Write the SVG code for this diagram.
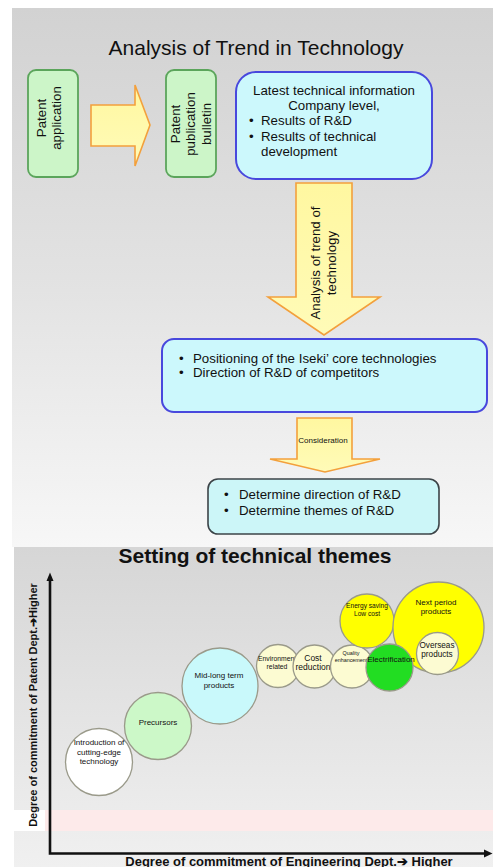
<svg xmlns="http://www.w3.org/2000/svg" width="493" height="867" viewBox="0 0 493 867">
<defs>
<linearGradient id="bgTop" x1="0" y1="0" x2="0" y2="1">
<stop offset="0" stop-color="#d2d2d2"/>
<stop offset="0.5" stop-color="#e2e2e2"/>
<stop offset="1" stop-color="#f7f7f7"/>
</linearGradient>
<linearGradient id="bgBot" x1="0" y1="0" x2="0" y2="1">
<stop offset="0" stop-color="#d6d6d6"/>
<stop offset="1" stop-color="#f0f0f0"/>
</linearGradient>
<linearGradient id="arrowFill" x1="0" y1="0" x2="0" y2="1">
<stop offset="0" stop-color="#fff7a0"/>
<stop offset="1" stop-color="#fffbb8"/>
</linearGradient>
</defs>
<style>
text{font-family:"Liberation Sans",Arial,sans-serif;fill:#111}
.green{fill:#ccf5c8;stroke:#5ba55b;stroke-width:1.8}
.cyan{fill:#ccf8fc;stroke:#4848dd;stroke-width:2}
.cyan2{fill:#ccf6f8;stroke:#3c4448;stroke-width:1.6}
.blk{fill:url(#arrowFill);stroke:#f3a03c;stroke-width:1.6;stroke-linejoin:miter}
.t13{font-size:13.3px}
.bub{stroke:#9a9a8a;stroke-width:1.3}
.axis{fill:none;stroke:#111;stroke-width:2.6}
</style>
<rect x="12" y="8" width="481" height="539" fill="url(#bgTop)"/>
<rect x="14" y="547" width="479" height="320" fill="url(#bgBot)"/>
<rect x="45" y="810" width="448" height="21" fill="#fdeaea"/>
<rect x="14" y="810" width="31" height="21" fill="#ffffff"/>
<text x="256" y="55" font-size="21" text-anchor="middle">Analysis of Trend in Technology</text>
<text x="255" y="563" font-size="21" font-weight="bold" text-anchor="middle">Setting of technical themes</text>
<g id="connectors">
<path class="blk" d="M91,105 H135 V85 L150,125 L135,166 V146 H91 Z"/>
<path class="blk" d="M296,183 H352 V297 H380 L324,335 L268,297 H296 Z"/>
<path class="blk" d="M297,418 H352 V459 H380 L325,472 L270,459 H297 Z"/>
<g transform="translate(0,263) rotate(-90)">
<text x="0" y="320" class="t13" text-anchor="middle">Analysis of trend of</text>
<text x="0" y="336" class="t13" text-anchor="middle">technology</text>
</g>
<text x="323" y="443" font-size="8" text-anchor="middle">Consideration</text>
</g>
<g id="patent-application">
<rect class="green" x="28" y="70" width="50" height="107" rx="8"/>
<g transform="translate(0,118) rotate(-90)">
<text x="0" y="46" class="t13" text-anchor="middle">Patent</text>
<text x="0" y="61" class="t13" text-anchor="middle">application</text>
</g>
</g>
<g id="patent-bulletin">
<rect class="green" x="166" y="70" width="50" height="107" rx="8"/>
<g transform="translate(0,124) rotate(-90)">
<text x="0" y="179.5" class="t13" text-anchor="middle">Patent</text>
<text x="0" y="195" class="t13" text-anchor="middle">publication</text>
<text x="0" y="210.5" class="t13" text-anchor="middle">bulletin</text>
</g>
</g>
<g id="latest-info">
<rect class="cyan" x="236" y="72" width="196" height="107" rx="20"/>
<text x="334" y="94.5" class="t13" text-anchor="middle">Latest technical information</text>
<text x="334" y="110" class="t13" text-anchor="middle">Company level,</text>
<text x="249" y="125" class="t13">•</text>
<text x="261" y="125" class="t13">Results of R&amp;D</text>
<text x="249" y="140.5" class="t13">•</text>
<text x="261" y="140.5" class="t13">Results of technical</text>
<text x="261" y="156" class="t13">development</text>
</g>
<g id="positioning">
<rect class="cyan" x="162" y="339" width="325" height="73" rx="12"/>
<text x="179" y="362.5" class="t13">•</text>
<text x="193" y="362.5" class="t13">Positioning of the Iseki’ core technologies</text>
<text x="179" y="376.5" class="t13">•</text>
<text x="193" y="376.5" class="t13">Direction of R&amp;D of competitors</text>
</g>
<g id="determine">
<rect class="cyan2" x="208" y="479" width="231" height="55" rx="10"/>
<text x="224" y="499" class="t13">•</text>
<text x="239" y="499" class="t13">Determine direction of R&amp;D</text>
<text x="224" y="514.5" class="t13">•</text>
<text x="239" y="514.5" class="t13">Determine themes of R&amp;D</text>
</g>
<g id="axes">
<path class="axis" d="M50,579 V853.5 H485"/>
<polygon points="50,572.5 46.5,581 53.5,581" fill="#111"/>
<polygon points="492.5,853.5 484,849.5 484,857.5" fill="#111"/>
<g transform="translate(0,705) rotate(-90)">
<text x="0" y="37" font-size="11" font-weight="bold" text-anchor="middle">Degree of commitment of Patent Dept.➔Higher</text>
</g>
<text x="289" y="865.5" font-size="13" font-weight="bold" text-anchor="middle">Degree of commitment of Engineering Dept.➔ Higher</text>
</g>
<g id="intro">
<circle class="bub" cx="99" cy="762" r="33.5" fill="#ffffff"/>
<text x="99" y="745" font-size="8" text-anchor="middle">Introduction of</text>
<text x="99" y="754.5" font-size="8" text-anchor="middle">cutting-edge</text>
<text x="99" y="764" font-size="8" text-anchor="middle">technology</text>
</g>
<g id="precursors">
<circle class="bub" cx="158" cy="726" r="33.5" fill="#ccf8c8"/>
<text x="158" y="724.5" font-size="8" text-anchor="middle">Precursors</text>
</g>
<g id="midlong">
<circle class="bub" cx="220" cy="686" r="38" fill="#c9f9fb"/>
<text x="219" y="678" font-size="8" text-anchor="middle">Mid-long term</text>
<text x="219" y="688" font-size="8" text-anchor="middle">products</text>
</g>
<g id="environment">
<circle class="bub" cx="278" cy="666" r="21.5" fill="#fcfbd2"/>
<text x="277" y="661" font-size="6.8" text-anchor="middle">Environment</text>
<text x="277" y="668.5" font-size="6.8" text-anchor="middle">related</text>
</g>
<g id="cost">
<circle class="bub" cx="314.5" cy="666.5" r="21.5" fill="#fcfbd2"/>
<text x="313" y="660.5" font-size="8.5" text-anchor="middle">Cost</text>
<text x="313" y="669.5" font-size="8.5" text-anchor="middle">reduction</text>
</g>
<g id="quality">
<circle class="bub" cx="352" cy="666.5" r="21.5" fill="#fcfbd2"/>
<text x="351" y="655" font-size="5.4" text-anchor="middle">Quality</text>
<text x="351" y="662" font-size="5.4" text-anchor="middle">enhancement</text>
</g>
<g id="energy">
<circle class="bub" cx="367" cy="621" r="27" fill="#ffff00"/>
<text x="367" y="608" font-size="6.6" text-anchor="middle">Energy saving</text>
<text x="367" y="616" font-size="6.6" text-anchor="middle">Low cost</text>
</g>
<g id="next-period">
<circle class="bub" cx="438.5" cy="627.5" r="45.5" fill="#ffff00"/>
<text x="436" y="605" font-size="8" text-anchor="middle">Next period</text>
<text x="436" y="614" font-size="8" text-anchor="middle">products</text>
</g>
<g id="overseas">
<circle class="bub" cx="437.5" cy="653.5" r="21" fill="#fcfbd2"/>
<text x="437" y="647.5" font-size="8.2" text-anchor="middle">Overseas</text>
<text x="437" y="656.5" font-size="8.2" text-anchor="middle">products</text>
</g>
<g id="electrification">
<circle class="bub" cx="389.5" cy="667.5" r="23.5" fill="#22dd22"/>
<text x="391" y="661.5" font-size="8" text-anchor="middle">Electrification</text>
</g>
</svg>
